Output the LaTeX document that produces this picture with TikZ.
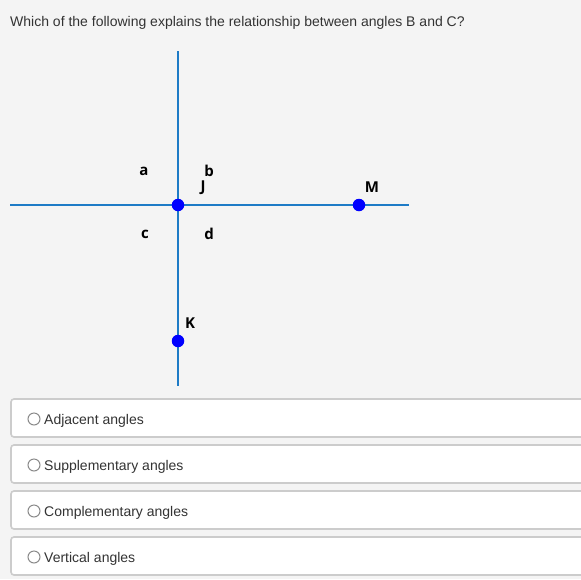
\documentclass[tikz,border=0pt]{standalone}
\usepackage{fontspec}
\setmainfont{Liberation Sans}
\newfontfamily\labelfont{Open Sans}
\definecolor{pagebg}{HTML}{F4F4F4}
\definecolor{lineblue}{HTML}{1E7BC6}
\definecolor{txtgray}{HTML}{333333}
\definecolor{boxgray}{HTML}{CCCCCC}
\definecolor{radiogray}{HTML}{8A8A8A}
\tikzset{
  axis/.style={draw=lineblue, line width=1.6pt},
  dot/.style={circle, fill=blue, inner sep=0pt, minimum size=12.5pt},
  ptlabel/.style={font=\labelfont\bfseries\fontsize{15}{17}\selectfont, text=black, inner sep=0pt},
  choice/.style={draw=boxgray, line width=1.6pt, fill=white, rounded corners=3pt},
  radio/.style={circle, draw=radiogray, line width=1pt, inner sep=0pt, minimum size=12pt},
  choicetext/.style={font=\fontsize{14}{16}\selectfont, text=txtgray, anchor=west, inner sep=0pt}
}
\begin{document}
\begin{tikzpicture}[x=1pt,y=-1pt]
  \useasboundingbox (0,0) rectangle (581,579);
  \clip (0,0) rectangle (581,579);
  \fill[pagebg] (0,0) rectangle (581,579);
  % question
  \node[choicetext] (question) at (10,22.5) {Which of the following explains the relationship between angles B and C?};
  % the two lines
  \coordinate (top) at (178,51);
  \coordinate (bottom) at (178,386);
  \coordinate (left) at (10,205);
  \coordinate (right) at (409,205);
  \draw[axis] (top) -- (bottom);
  \draw[axis] (left) -- (right);
  % points
  \node[dot] (J) at (178,205) {};
  \node[dot] (M) at (359,205) {};
  \node[dot] (K) at (178,341) {};
  \node[ptlabel] (lblJ) at (203,188) {J};
  \node[ptlabel] (lblM) at (372,187) {M};
  \node[ptlabel] (lblK) at (190,323) {K};
  % angle labels
  \node[ptlabel] (anga) at (144,171) {a};
  \node[ptlabel] (angb) at (209,171) {b};
  \node[ptlabel] (angc) at (145,234) {c};
  \node[ptlabel] (angd) at (209,234) {d};
  % answer choices
  \foreach \y/\name/\txt in {399/optA/Adjacent angles, 445/optB/Supplementary angles,
                             491/optC/Complementary angles, 537/optD/Vertical angles}{
    \draw[choice] (11,\y) rectangle (595,\y+38);
    \node[radio] (\name radio) at (34,\y+20) {};
    \node[choicetext] (\name) at (44,\y+21.5) {\txt};
  }
\end{tikzpicture}
\end{document}
